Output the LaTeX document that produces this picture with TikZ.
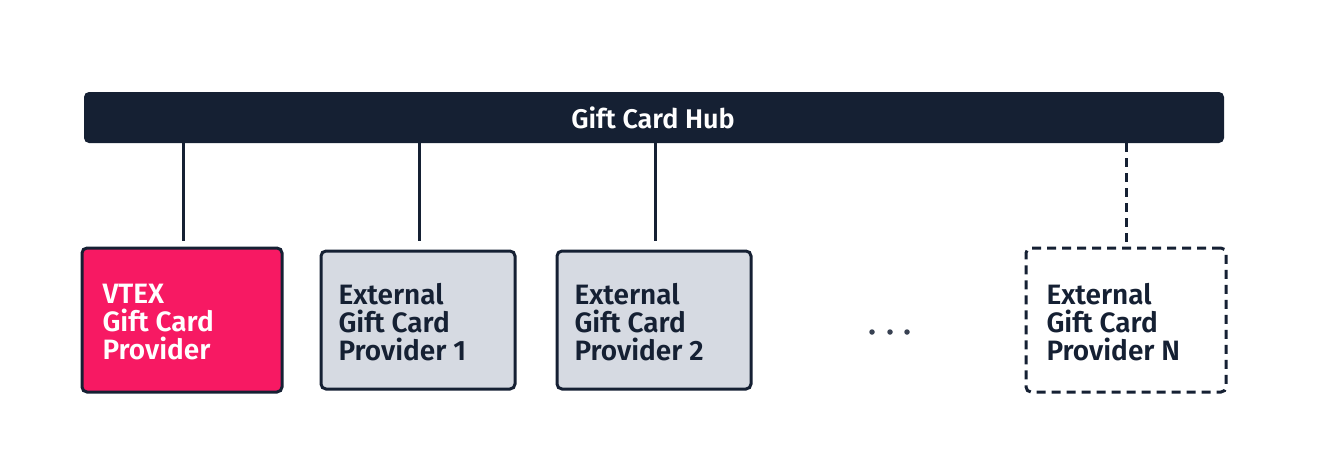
\documentclass[tikz,border=0pt]{standalone}
\usepackage{fontspec}
\setmainfont{Fira Sans}[UprightFont=* SemiBold, BoldFont=* Bold]
\usetikzlibrary{positioning}
\definecolor{navy}{HTML}{152033}
\definecolor{vpink}{HTML}{F71963}
\definecolor{lgray}{HTML}{D6DAE2}
\tikzset{
  provbox/.style={draw=navy, line width=3pt, rounded corners=5pt, minimum width=194pt, minimum height=138pt, inner sep=0pt},
  provtext/.style={align=left, anchor=west, font=\fontsize{28}{28}\selectfont, text=navy},
  conn/.style={draw=navy, line width=3pt},
  dsh/.style={dash pattern=on 9pt off 6pt}
}
\begin{document}
\begin{tikzpicture}[x=1pt,y=-1pt]
\useasboundingbox (0,0) rectangle (1327,456);
\fill[white] (0,0) rectangle (1327,456);
% hub
\node[fill=navy, rounded corners=5pt, minimum width=1140pt, minimum height=51pt, inner sep=0pt] (hub) at (654,117.5) {};
\node[text=white, font=\fontsize{27}{30}\selectfont] (hubt) at (653,118) {Gift Card Hub};
% boxes
\node[provbox, fill=vpink, minimum width=200pt, minimum height=144pt] (vtex) at (182,320) {};
\node[provtext, text=white] (vtext) at (99,322) {VTEX\\Gift Card\\Provider};
\node[provbox, fill=lgray] (e1) at (418,320) {};
\node[provtext] (e1t) at (335,322) {External\\Gift Card\\Provider 1};
\node[provbox, fill=lgray] (e2) at (654,320) {};
\node[provtext] (e2t) at (571,322) {External\\Gift Card\\Provider 2};
\node[provbox, dsh, fill=white, minimum width=200pt, minimum height=144pt] (en) at (1126,320) {};
\node[provtext] (ent) at (1043,322) {External\\Gift Card\\Provider N};
% connectors
\coordinate (c1) at (183,241);
\coordinate (c2) at (419,241);
\coordinate (c3) at (655,241);
\draw[conn] (hub.south -| c1) -- (c1);
\draw[conn] (hub.south -| c2) -- (c2);
\draw[conn] (hub.south -| c3) -- (c3);
\draw[conn, dsh] (hub.south -| en.north) -- (en.north);
% dots
\foreach \x/\n in {872/d1,890/d2,907/d3}{
  \node[circle, fill=navy!85, inner sep=0pt, minimum size=5.5pt] (\n) at (\x,332) {};
}
\end{tikzpicture}
\end{document}
